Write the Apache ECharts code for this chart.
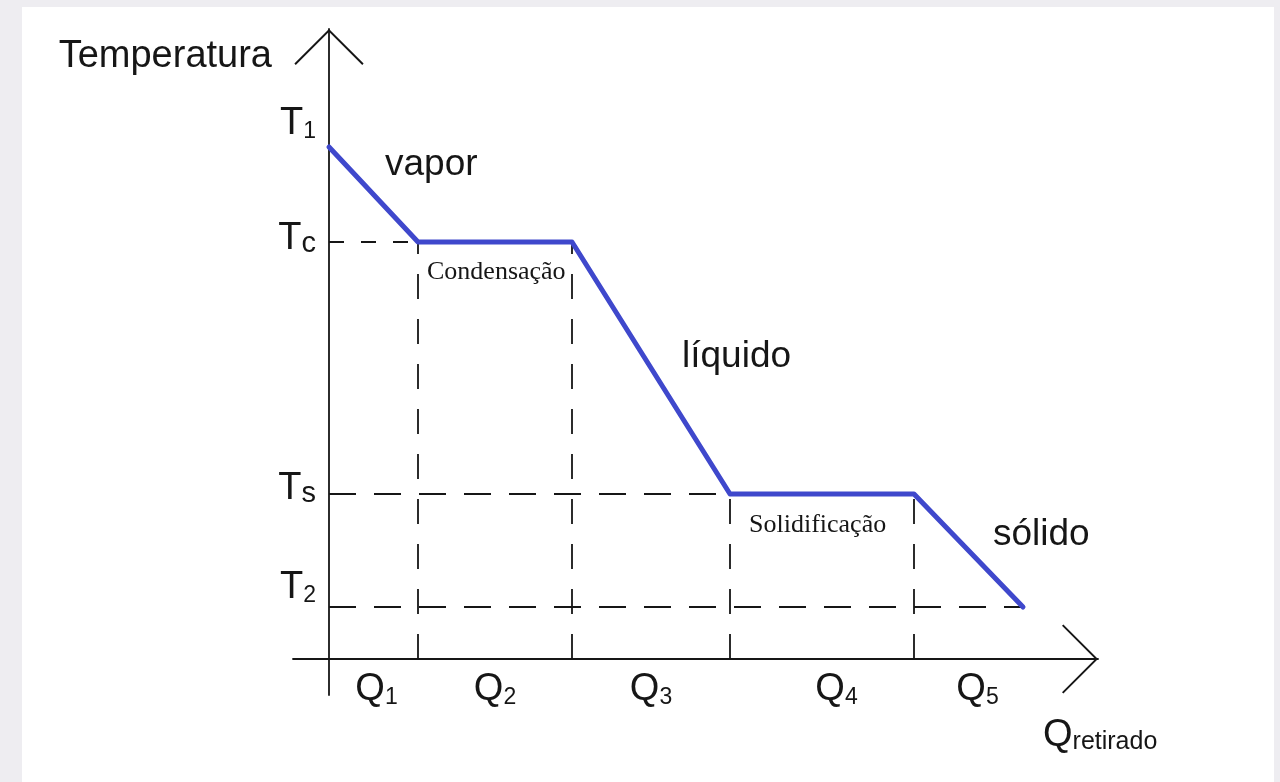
<!DOCTYPE html>
<html>
<head>
<meta charset="utf-8">
<script src="https://cdn.jsdelivr.net/npm/echarts@6/dist/echarts.min.js"></script>
<style>
  html, body { margin: 0; padding: 0; background: #eeedf1; }
  #chart { width: 1280px; height: 782px; }
</style>
</head>
<body>
<div id="chart"></div>
<script>
// Cumulative heat removed at each stage boundary, and the temperature reached there
const heatRemoved = [0, 8.9, 24.3, 40.1, 58.5, 69.4];
const temperature = [51.2, 41.7, 41.7, 16.5, 16.5, 5.2];

// Named temperature levels on the vertical axis: T1, Tc, Ts, T2
const tempLevels = [51.2, 41.7, 16.5, 5.2];
const tempSubs = ['1', 'c', 's', '2'];

// Heat portions named along the horizontal axis: Q1 ... Q5
const heatSubs = ['1', '2', '3', '4', '5'];

// Phase and plateau names
const phaseNames = ['vapor', 'líquido', 'sólido'];
const plateauNames = ['Condensação', 'Solidificação'];

const SANS = '"Liberation Sans", Arial, sans-serif';
const SERIF = '"Liberation Serif", "Times New Roman", serif';
const INK = '#161616';

// Midpoint of each heat portion, used to place its Q label
const heatMids = heatSubs.map((_, i) => (heatRemoved[i] + heatRemoved[i + 1]) / 2);

function nearestIndex(arr, v) {
  let best = 0;
  arr.forEach((a, i) => { if (Math.abs(a - v) < Math.abs(arr[best] - v)) best = i; });
  return best;
}

// Small pixel nudges for the axis labels (layout only)
const tempLabelLift = [46, 6, 10, 38];
const heatLabelPad = [6, 0, 0, 29, 18];

const yRich = {
  T: { fontSize: 38, lineHeight: 38, fontFamily: SANS, color: INK, verticalAlign: 'bottom' },
  d: { fontSize: 23, lineHeight: 23, fontFamily: SANS, color: INK, verticalAlign: 'bottom' },
  l: { fontSize: 29, lineHeight: 29, fontFamily: SANS, color: INK, verticalAlign: 'bottom' }
};
tempLabelLift.forEach((h, i) => { yRich['g' + i] = { fontSize: 1, lineHeight: h }; });

const xRich = {
  s: { fontSize: 23, lineHeight: 23, fontFamily: SANS, color: INK, verticalAlign: 'bottom' }
};
heatLabelPad.forEach((p, i) => {
  xRich['q' + i] = { fontSize: 38, lineHeight: 38, fontFamily: SANS, color: INK,
                     verticalAlign: 'bottom', padding: [0, 0, 0, p] };
});

// Dashed guides from each stage boundary back to the axes
const guideH = [1, 3, 5].map(i => [[0, temperature[i]], [heatRemoved[i], temperature[i]]]);
const guideV = [1, 2, 3, 4].map(i => [[heatRemoved[i], 0], [heatRemoved[i], temperature[i]]]);

const dashStyle = (dash) => ({ color: INK, width: 1.8, type: dash });

const series = [];
guideH.forEach((seg, k) => {
  series.push({
    type: 'line', data: seg, symbol: 'none', silent: true, z: 1,
    lineStyle: dashStyle(k === 0 ? [15, 17] : [27, 18])
  });
});
guideV.forEach((seg) => {
  series.push({
    type: 'line', data: seg, symbol: 'none', silent: true, z: 1,
    lineStyle: dashStyle([25, 20])
  });
});
// Cooling curve
series.push({
  type: 'line',
  data: heatRemoved.map((q, i) => [q, temperature[i]]),
  symbol: 'none',
  z: 5,
  lineStyle: { color: '#3f48cc', width: 5, cap: 'round', join: 'round' }
});

// Open chevron used as the axis arrow head (tip at the top)
const chevron = 'path://M35,0 L70,35 L68.6,36.4 L35,2.8 L1.4,36.4 L0,35 Z';

const chart = echarts.init(document.getElementById('chart'));
chart.setOption({
  backgroundColor: '#eeedf1',
  animation: false,
  grid: { left: 293, right: 182, top: 29, bottom: 87, containLabel: false, outerBoundsMode: 'none' },
  xAxis: {
    type: 'value', min: -3.6, max: 76.9,
    splitLine: { show: false },
    axisTick: { show: false },
    axisLine: {
      onZero: true,
      lineStyle: { color: INK, width: 1.8 },
      symbol: ['none', chevron],
      symbolSize: [70, 36],
      symbolOffset: [0, -18]
    },
    axisLabel: {
      customValues: heatMids,
      margin: -24,
      verticalAlign: 'top',
      align: 'center',
      formatter: (v) => {
        const i = nearestIndex(heatMids, v);
        return '{q' + i + '|Q}{s|' + heatSubs[i] + '}';
      },
      rich: xRich
    },
    name: '{Q|Q}{r|retirado}',
    nameLocation: 'end',
    nameGap: -55,
    nameTextStyle: {
      align: 'left', verticalAlign: 'top', padding: [58, 0, 0, 0],
      rich: {
        Q: { fontSize: 38, lineHeight: 38, fontFamily: SANS, color: INK, verticalAlign: 'bottom' },
        r: { fontSize: 25, lineHeight: 25, fontFamily: SANS, color: INK, verticalAlign: 'bottom' }
      }
    }
  },
  yAxis: {
    type: 'value', min: -3.6, max: 63.0,
    splitLine: { show: false },
    axisTick: { show: false },
    axisLine: {
      onZero: true,
      lineStyle: { color: INK, width: 1.8 },
      symbol: ['none', chevron],
      symbolSize: [70, 36],
      symbolOffset: [0, -18]
    },
    axisLabel: {
      customValues: tempLevels,
      margin: -23,
      align: 'right',
      verticalAlign: 'middle',
      formatter: (v) => {
        const i = nearestIndex(tempLevels, v);
        const sub = tempSubs[i];
        const st = /\d/.test(sub) ? 'd' : 'l';
        return '{T|T}{' + st + '|' + sub + '}\n{g' + i + '|\u00a0}';
      },
      rich: yRich
    },
    name: 'Temperatura',
    nameLocation: 'end',
    nameGap: -28,
    nameTextStyle: {
      fontFamily: SANS, fontSize: 38, color: INK,
      align: 'right', verticalAlign: 'middle', padding: [0, 57, 0, 0]
    }
  },
  graphic: [
    { type: 'rect', z: -10, silent: true,
      shape: { x: 22, y: 7, width: 1252, height: 775 }, style: { fill: '#ffffff' } },
    { type: 'text', x: 385, y: 165, silent: true,
      style: { text: phaseNames[0], font: '37px ' + SANS, fill: INK, verticalAlign: 'middle' } },
    { type: 'text', x: 682, y: 357, silent: true,
      style: { text: phaseNames[1], font: '37px ' + SANS, fill: INK, verticalAlign: 'middle' } },
    { type: 'text', x: 993, y: 535, silent: true,
      style: { text: phaseNames[2], font: '37px ' + SANS, fill: INK, verticalAlign: 'middle' } },
    { type: 'text', x: 427, y: 272, silent: true,
      style: { text: plateauNames[0], font: '26px ' + SERIF, fill: INK, verticalAlign: 'middle' } },
    { type: 'text', x: 749, y: 525, silent: true,
      style: { text: plateauNames[1], font: '26px ' + SERIF, fill: INK, verticalAlign: 'middle' } }
  ],
  series: series
});
</script>
</body>
</html>
